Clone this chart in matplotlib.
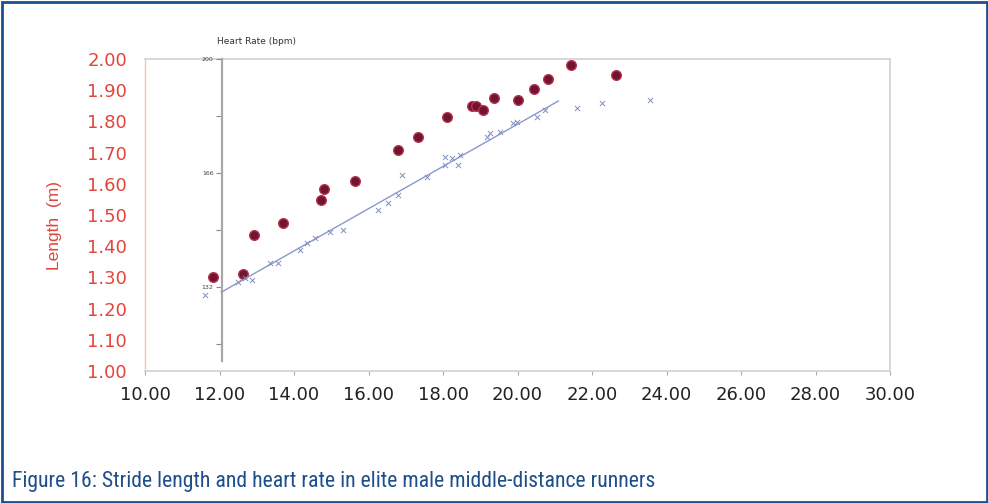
import matplotlib
matplotlib.use("Agg")
import matplotlib.pyplot as plt
from matplotlib.patches import Rectangle
from matplotlib.ticker import FixedLocator, FormatStrFormatter
from matplotlib import font_manager

# ---------------- data ----------------
# Stride length (m) vs speed (km/h)
stride_speed = [11.83, 12.63, 12.93, 13.70, 14.72, 14.81, 15.64, 16.79, 17.33, 18.11,
                18.78, 18.89, 19.07, 19.37, 20.01, 20.44, 20.82, 21.44, 22.64]
stride_length = [1.30, 1.31, 1.436, 1.474, 1.548, 1.583, 1.609, 1.708, 1.750, 1.814,
                 1.849, 1.849, 1.837, 1.875, 1.869, 1.904, 1.936, 1.981, 1.949]

# Heart rate (bpm) vs speed (km/h)
hr_speed = [11.61, 12.50, 12.68, 12.87, 13.36, 13.57, 14.16, 14.35, 14.56, 14.97,
            15.32, 16.26, 16.52, 16.79, 16.90, 17.57, 18.05, 18.24, 18.40, 18.46,
            18.05, 19.18, 19.26, 19.53, 19.88, 19.99, 20.52, 20.74, 21.60, 22.27, 23.56]
hr_values = [129.6, 133.5, 134.7, 134.1, 139.2, 139.2, 143.0, 145.1, 146.6, 148.4,
             149.0, 155.0, 157.1, 159.4, 165.4, 164.8, 170.8, 170.5, 168.4, 171.4,
             168.4, 176.7, 177.9, 178.2, 180.9, 181.2, 182.7, 184.8, 185.4, 186.9, 187.8]

# Heart-rate trend line end points
fit_speed = [12.05, 21.10]
fit_hr = [130.5, 187.5]

x_ticks = [10, 12, 14, 16, 18, 20, 22, 24, 26, 28, 30]
y_ticks = [1.0, 1.1, 1.2, 1.3, 1.4, 1.5, 1.6, 1.7, 1.8, 1.9, 2.0]
hr_major = [132, 166, 200]
hr_minor = [115, 149, 183]

caption = "Figure 16: Stride length and heart rate in elite male middle-distance runners"

# pick a condensed face if one is installed
names = {f.name for f in font_manager.fontManager.ttflist}
cond_faces = [n for n in ["Liberation Sans Narrow", "DejaVu Sans Condensed",
                          "Roboto Condensed", "Open Sans Condensed", "Noto Sans Condensed"]
              if n in names]
condensed_stretch = any(f.name == "DejaVu Sans" and f.stretch == "condensed"
                        for f in font_manager.fontManager.ttflist)

# ---------------- figure ----------------
W, H = 988, 503
fig = plt.figure(figsize=(W / 100, H / 100), dpi=100)
fig.patch.set_facecolor("white")

ax = fig.add_axes([145 / W, 1 - 371 / H, 745 / W, 312 / H])
ax.set_xlim(10, 30)
ax.set_ylim(1.0, 2.0)
ax.xaxis.set_major_locator(FixedLocator(x_ticks))
ax.yaxis.set_major_locator(FixedLocator(y_ticks))
ax.xaxis.set_major_formatter(FormatStrFormatter("%.2f"))
ax.yaxis.set_major_formatter(FormatStrFormatter("%.2f"))

red = "#e2453b"
ax.tick_params(axis="y", length=0, pad=13, labelsize=13, labelcolor=red)
ax.tick_params(axis="x", length=3, width=0.8, color="#aaaaaa", pad=8,
               labelsize=13, labelcolor="#222222")

for s in ["top", "right", "bottom"]:
    ax.spines[s].set_color("#d4d4d4")
    ax.spines[s].set_linewidth(1.3)
ax.spines["left"].set_color("#f6c2bc")
ax.spines["left"].set_linewidth(1.0)

ax.scatter(stride_speed, stride_length, s=48, facecolor="#701530",
           edgecolor="#b8304e", linewidth=1.0, zorder=5)

# Heart-rate axis (inner)
ax2 = ax.twinx()
ax2.set_ylim(107, 200)
for s in ["top", "right", "bottom"]:
    ax2.spines[s].set_visible(False)
ax2.spines["left"].set_visible(True)
ax2.spines["left"].set_position(("axes", (222 - 145) / 745))
ax2.spines["left"].set_bounds(110, 200)
ax2.spines["left"].set_color("#a8a8a8")
ax2.spines["left"].set_linewidth(1.6)
ax2.yaxis.set_ticks_position("left")
ax2.yaxis.set_major_locator(FixedLocator(hr_major))
ax2.yaxis.set_minor_locator(FixedLocator(hr_minor))
ax2.tick_params(axis="y", which="major", length=4, width=0.8, color="#888888",
                labelsize=4.5, labelcolor="#444444", pad=2)
ax2.tick_params(axis="y", which="minor", length=4, width=0.8, color="#888888")

ax2.plot(fit_speed, fit_hr, color="#8a98cc", linewidth=1.0, zorder=3)
ax2.scatter(hr_speed, hr_values, marker="x", s=14, color="#8090bf",
            linewidth=0.7, zorder=4)

fig.text(217 / W, 1 - 42 / H, "Heart Rate (bpm)", fontsize=6.5, color="#333333",
         ha="left", va="center", family="DejaVu Sans")

fig.text(54 / W, 1 - 225 / H, "Length  (m)", rotation=90, fontsize=12.5,
         color=red, ha="center", va="center", family=["Liberation Sans", "DejaVu Sans"])

if cond_faces:
    cap = fig.text(12 / W, 1 - 482 / H, caption, fontsize=15.7, color="#1f4f8a",
                   ha="left", va="center", family=[cond_faces[0], "DejaVu Sans"])
elif condensed_stretch:
    cap = fig.text(12 / W, 1 - 482 / H, caption, fontsize=14.5, color="#1f4f8a",
                   ha="left", va="center", family="DejaVu Sans", stretch="condensed")
else:
    cap = fig.text(12 / W, 1 - 482 / H, caption, fontsize=12.3, color="#1f4f8a",
                   ha="left", va="center", family="Liberation Sans")

# outer blue frame
fig.patches.append(Rectangle((1.5 / W, 1.5 / H), 1 - 3 / W, 1 - 3 / H,
                             transform=fig.transFigure, fill=False,
                             edgecolor="#1d4f8f", linewidth=2.0))

fig.savefig("out.png", dpi=100)
